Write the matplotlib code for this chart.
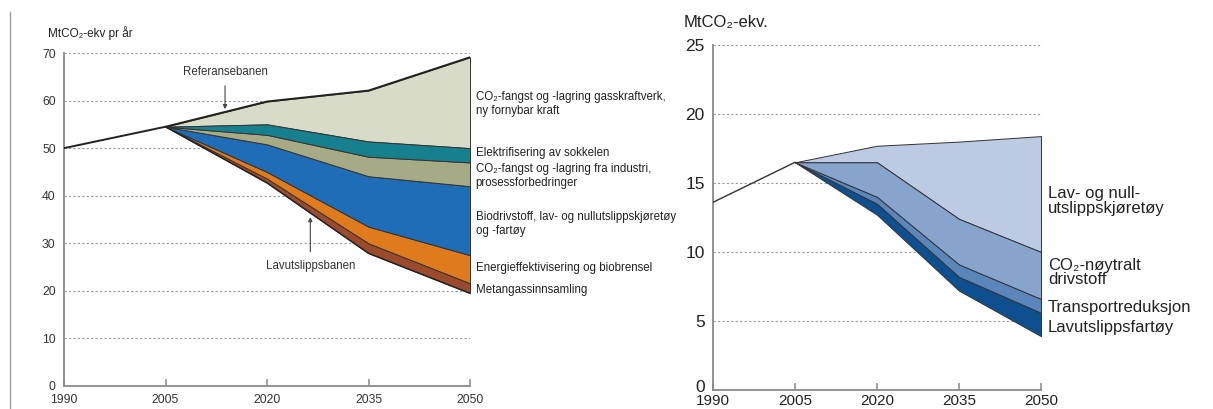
import matplotlib
matplotlib.use("Agg")
import matplotlib.pyplot as plt
import matplotlib.transforms as mtransforms
from matplotlib.lines import Line2D

plt.rcParams['font.family'] = ['Liberation Sans', 'DejaVu Sans']

# ---------------- Left chart data ----------------
left_years = [1990, 2005, 2020, 2035, 2050]
reference_left = [50.0, 54.5, 59.8, 62.1, 69.1]
wedge_years = [2005, 2020, 2035, 2050]
low_path_left = [54.5, 42.7, 27.9, 19.5]
metan = [0, 0.9, 2.1, 2.1]
energi = [0, 1.4, 3.5, 5.9]
bio = [0, 5.8, 10.6, 14.5]
industri = [0, 2.0, 4.1, 5.0]
elektri = [0, 2.2, 3.2, 3.0]
left_wedges = [metan, energi, bio, industri, elektri]
left_colors = ['#9b4a2c', '#df7a1d', '#1f6db6', '#a6ab86', '#16808f', '#d8dbc7']
left_labels = ['Metangassinnsamling',
               'Energieffektivisering og biobrensel',
               'Biodrivstoff, lav- og nullutslippskjøretøy\nog -fartøy',
               'CO₂-fangst og -lagring fra industri,\nprosessforbedringer',
               'Elektrifisering av sokkelen',
               'CO₂-fangst og -lagring gasskraftverk,\nny fornybar kraft']
left_label_y = [20.2, 24.7, 34.0, 44.2, 48.9, 59.3]
left_yticks = [0, 10, 20, 30, 40, 50, 60, 70]
left_xticks = [1990, 2005, 2020, 2035, 2050]

# ---------------- Right chart data ----------------
right_years = [1990, 2005, 2020, 2035, 2050]
reference_right = [13.6, 16.5, 17.7, 18.0, 18.4]
low_path_right = [16.5, 12.7, 7.2, 3.9]
fartoy = [0, 0.8, 1.0, 1.7]
transport = [0, 0.5, 0.9, 1.0]
noytralt = [0, 2.5, 3.3, 3.4]
right_wedges = [fartoy, transport, noytralt]
right_colors = ['#0e4f90', '#5a86bb', '#87a5cc', '#bccbe3']
right_labels = ['Lavutslippsfartøy', 'Transportreduksjon',
                'CO₂-nøytralt\ndrivstoff', 'Lav- og null-\nutslippskjøretøy']
right_label_y = [4.5, 6.0, 8.5, 13.7]
right_yticks = [0, 5, 10, 15, 20, 25]
right_xticks = [1990, 2005, 2020, 2035, 2050]

W, H = 1213, 409
fig = plt.figure(figsize=(W / 100, H / 100), dpi=100)
fig.patch.set_facecolor('white')

edge = '#333333'
grid_kw = dict(color='#9a9a9a', linestyle=(0, (2, 2)), linewidth=0.8)


def stack(ax, years, low, wedges, ref_top, colors):
    base = list(low)
    for w, c in zip(wedges, colors):
        top = [b + v for b, v in zip(base, w)]
        ax.fill_between(years, base, top, facecolor=c, edgecolor=edge,
                        linewidth=0.7, zorder=3)
        base = top
    ax.fill_between(years, base, ref_top, facecolor=colors[-1],
                    edgecolor=edge, linewidth=0.7, zorder=2)


def style(ax, yticks, xticks, ymax, fs, tickcol, xpad):
    for s in ['top', 'right']:
        ax.spines[s].set_visible(False)
    for s in ['left', 'bottom']:
        ax.spines[s].set_color('#8a8a8a')
        ax.spines[s].set_linewidth(1.3)
    ax.set_xlim(1990, 2050)
    ax.set_ylim(0, ymax)
    ax.set_yticks(yticks)
    ax.set_xticks(xticks)
    ax.tick_params(axis='y', length=0, pad=6, labelsize=fs, labelcolor=tickcol)
    ax.tick_params(axis='x', direction='in', length=5, width=1.1,
                   color='#8a8a8a', pad=xpad, labelsize=fs, labelcolor=tickcol)
    for t in yticks[1:]:
        ax.axhline(t, xmin=0, xmax=1, zorder=1, **grid_kw)
    ax.set_facecolor('none')


# ---------------- Left axes ----------------
axL = fig.add_axes([64 / W, (H - 386) / H, 406 / W, 333 / H])
style(axL, left_yticks, left_xticks, 70, 8.7, '#333333', 6)
stack(axL, wedge_years, low_path_left, left_wedges, reference_left[1:], left_colors)
axL.plot(left_years, reference_left, color='#222222', lw=1.4, zorder=5)
axL.plot(wedge_years, low_path_left, color='#222222', lw=1.0, zorder=5)
for lab, yv in zip(left_labels, left_label_y):
    axL.annotate(lab, xy=(1, yv), xycoords=('axes fraction', 'data'),
                 xytext=(4, 0), textcoords='offset points', va='center',
                 ha='left', fontsize=8.3, color='#222222', linespacing=1.25,
                 annotation_clip=False)
axL.text(-0.04, 1.06, 'MtCO₂-ekv pr år', transform=axL.transAxes,
         fontsize=8.5, color='#222222', ha='left', va='center')
axL.annotate('Referansebanen', xy=(2013.8, 58.2), xytext=(2013.8, 66.1),
             ha='center', va='center', fontsize=8.3, color='#333333',
             arrowprops=dict(arrowstyle='-|>', lw=0.8, color='#444444',
                             mutation_scale=6, shrinkA=4, shrinkB=0),
             zorder=6)
axL.annotate('Lavutslippsbanen', xy=(2026.4, 35.5), xytext=(2026.4, 25.2),
             ha='center', va='center', fontsize=8.3, color='#333333',
             arrowprops=dict(arrowstyle='-|>', lw=0.8, color='#444444',
                             mutation_scale=6, shrinkA=4, shrinkB=0),
             zorder=6)

# frame line on the far left
fig.add_artist(Line2D([10 / W, 10 / W], [0, 1 - 12 / H],
                      transform=fig.transFigure, color='#9a9a9a', lw=1.0))

# ---------------- Right axes ----------------
axR = fig.add_axes([713 / W, (H - 390) / H, 328 / W, 345 / H])
style(axR, right_yticks, right_xticks, 25, 12.5, '#222222', 3)
for lbl in axR.get_xticklabels():
    lbl.set_fontsize(11)
# lift the "0" label slightly so it clears the first year label
zero_lbl = axR.get_yticklabels()[0]
zero_lbl.set_transform(zero_lbl.get_transform() +
                       mtransforms.ScaledTranslation(0, 4 / 100, fig.dpi_scale_trans))
stack(axR, wedge_years, low_path_right, right_wedges, reference_right[1:], right_colors)
axR.plot(right_years[:2], reference_right[:2], color='#333333', lw=1.0, zorder=5)
for lab, yv in zip(right_labels, right_label_y):
    axR.annotate(lab, xy=(1, yv), xycoords=('axes fraction', 'data'),
                 xytext=(5, 0), textcoords='offset points', va='center',
                 ha='left', fontsize=12, color='#222222', linespacing=0.95,
                 annotation_clip=False)
axR.text(-0.09, 1.065, 'MtCO₂-ekv.', transform=axR.transAxes,
         fontsize=12, color='#222222', ha='left', va='center')

fig.savefig('out.png', dpi=100, facecolor='white')
